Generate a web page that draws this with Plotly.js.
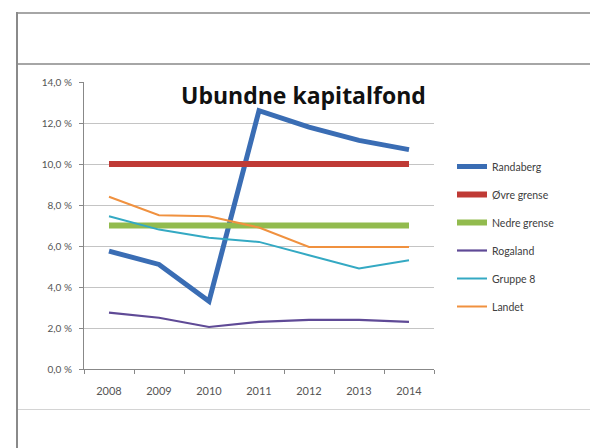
<!DOCTYPE html>
<html>
<head>
<meta charset="utf-8">
<script src="https://cdn.plot.ly/plotly-3.0.1.min.js"></script>
<style>
html,body{margin:0;padding:0;background:#fff;overflow:hidden;}
#wrap{position:relative;width:590px;height:448px;}
#chart{position:absolute;left:0;top:0;width:590px;height:448px;}
.hl{position:absolute;left:16px;width:574px;height:1px;background:#a6a6a6;}
.vl{position:absolute;left:16px;top:12px;width:1px;height:436px;background:#8a8a8a;}
</style>
</head>
<body>
<div id="wrap">
<div id="chart"></div>
<div class="hl" style="top:12px;height:2px;"></div>
<div class="hl" style="top:63px;height:2px;"></div>
<div class="hl" style="top:409px;background:#d4d4d4;"></div>
<div class="vl" style="width:2px;"></div>
</div>
<script>
const years = ['2008','2009','2010','2011','2012','2013','2014'];
const randaberg = [5.75, 5.1, 3.3, 12.6, 11.8, 11.15, 10.7];
const ovreGrense = [10, 10, 10, 10, 10, 10, 10];
const nedreGrense = [7, 7, 7, 7, 7, 7, 7];
const rogaland = [2.75, 2.5, 2.05, 2.3, 2.4, 2.4, 2.3];
const gruppe8 = [7.45, 6.8, 6.4, 6.2, 5.55, 4.9, 5.3];
const landet = [8.4, 7.5, 7.45, 6.9, 5.95, 5.95, 5.95];
const names = ['Randaberg','Øvre grense','Nedre grense','Rogaland','Gruppe 8','Landet'];
const yTickVals = [0,2,4,6,8,10,12,14];
const yTickText = ['0,0 %','2,0 %','4,0 %','6,0 %','8,0 %','10,0 %','12,0 %','14,0 %'];
const chartTitle = 'Ubundne kapitalfond';

const series = [randaberg, ovreGrense, nedreGrense, rogaland, gruppe8, landet];
const colors = ['#3a6db4','#bf3a35','#92bb4e','#5f4a96','#34a9c3','#f0913f'];
const widths = [5, 6, 6, 2.2, 2, 2];

const traces = series.map((s,i)=>({
  x: years, y: s, type:'scatter', mode:'lines', name: names[i],
  legendgroup: 'g'+i,
  line:{color:colors[i], width:widths[i]}
}));

const X = px => (px-84)/350;
const Y = py => (369-py)/287;
const layout = {
  width:590, height:448,
  margin:{l:84, r:156, t:82, b:79},
  paper_bgcolor:'rgba(0,0,0,0)', plot_bgcolor:'rgba(0,0,0,0)',
  font:{family:'Lato, "Open Sans", sans-serif', color:'#595959', size:9},
  showlegend:true,
  legend:{x:X(452), y:Y(152), xanchor:'left', yanchor:'top',
    font:{size:10.5, color:'#404040'}, tracegroupgap:9, itemwidth:30,
    bgcolor:'rgba(0,0,0,0)'},
  xaxis:{type:'category', range:[-0.5,6.5], tickson:'boundaries', ticks:'outside', ticklen:4,
    tickcolor:'#888', showline:true, linecolor:'#888', linewidth:1,
    showgrid:false, tickfont:{size:11, color:'#555'}, ticklabelstandoff:12, fixedrange:true},
  yaxis:{range:[0,14], tickvals:yTickVals, ticktext:yTickText, ticks:'outside',
    ticklen:4, tickcolor:'#888', showline:true, linecolor:'#888', linewidth:1,
    showgrid:true, gridcolor:'#c4c4c4', gridwidth:1, zeroline:false,
    tickfont:{size:10, color:'#555'}, ticklabelstandoff:5, fixedrange:true},
  annotations:[{text:'<b>'+chartTitle+'</b>', xref:'paper', yref:'paper',
    x:X(303), y:Y(95), xanchor:'center', yanchor:'middle', showarrow:false,
    font:{size:23, color:'#111', family:'"Open Sans", Lato, sans-serif'}}]
};
Plotly.newPlot('chart', traces, layout, {displayModeBar:false, staticPlot:true});
</script>
</body>
</html>
